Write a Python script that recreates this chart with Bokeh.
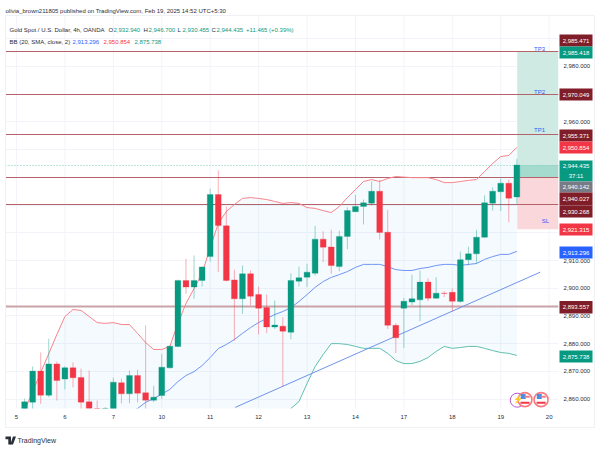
from bokeh.plotting import figure
from bokeh.embed import file_html
from bokeh.resources import INLINE
from bokeh.models import Range1d, FixedTicker, LinearAxis, ColumnDataSource
from bokeh.core.properties import value

# ---------- data ----------
day_labels = ["5", "6", "7", "10", "11", "12", "13", "14", "17", "18", "19", "20"]
price_ticks = [2860, 2870, 2880, 2890, 2900, 2910, 2960, 2980]
grid_prices = [2860, 2870, 2880, 2890, 2900, 2910, 2920, 2930, 2940, 2950, 2960, 2970, 2980, 2990]

opens = [2855.0, 2858.9, 2870.1, 2861.4, 2872.7, 2867.2, 2871.3, 2867.8, 2859.0, 2853.0, 2846.0, 2852.0,
         2865.9, 2861.9, 2868.5, 2862.3, 2859.6, 2861.3, 2871.3, 2879.0, 2902.8, 2900.4, 2902.8, 2911.4,
         2933.8, 2922.5, 2903.0, 2896.2, 2905.2, 2897.7, 2893.0, 2886.0, 2886.3, 2884.1, 2902.5, 2904.0,
         2905.4, 2917.7, 2914.9, 2907.8, 2918.7, 2927.6, 2929.5, 2930.7, 2935.0, 2920.2, 2886.6, 2892.8,
         2895.0, 2895.8, 2902.2, 2896.4, 2898.2, 2898.5, 2895.2, 2910.3, 2912.4, 2918.4, 2930.7, 2934.8,
         2937.9, 2932.94]
highs = [2860.2, 2871.8, 2876.8, 2881.8, 2873.5, 2871.8, 2873.2, 2871.0, 2870.3, 2859.5, 2857.1, 2867.7,
         2867.4, 2870.3, 2870.6, 2886.6, 2864.8, 2876.3, 2879.4, 2903.1, 2910.6, 2911.8, 2907.8, 2935.9,
         2942.5, 2929.5, 2906.7, 2908.2, 2906.4, 2900.6, 2897.7, 2895.6, 2889.5, 2905.4, 2907.8, 2908.8,
         2922.5, 2920.5, 2921.1, 2920.8, 2929.2, 2933.6, 2932.0, 2938.6, 2939.1, 2928.3, 2887.4, 2896.5,
         2904.9, 2906.4, 2903.5, 2904.0, 2898.9, 2899.9, 2913.2, 2915.0, 2921.1, 2933.5, 2936.4, 2939.5,
         2939.2, 2946.7]
lows = [2853.0, 2855.0, 2858.3, 2860.7, 2859.5, 2863.5, 2864.2, 2856.0, 2850.0, 2848.0, 2844.0, 2850.0,
        2858.4, 2858.5, 2858.8, 2854.0, 2858.9, 2860.1, 2871.0, 2878.7, 2898.0, 2896.2, 2900.6, 2909.6,
        2905.8, 2902.4, 2881.1, 2890.8, 2893.8, 2883.3, 2883.8, 2885.3, 2864.5, 2881.6, 2900.6, 2900.4,
        2904.6, 2909.4, 2905.2, 2906.1, 2914.1, 2927.6, 2923.0, 2929.8, 2917.6, 2885.3, 2876.6, 2878.5,
        2893.8, 2888.1, 2895.3, 2896.2, 2896.8, 2891.6, 2894.8, 2908.2, 2908.8, 2918.2, 2928.0, 2927.8,
        2923.8, 2930.455]
closes = [2859.0, 2870.1, 2861.4, 2872.7, 2866.7, 2871.3, 2867.7, 2858.9, 2853.0, 2850.0, 2852.0, 2866.1,
          2861.9, 2868.5, 2862.1, 2859.6, 2860.7, 2871.5, 2879.1, 2902.8, 2900.4, 2902.8, 2907.7, 2933.8,
          2922.6, 2902.8, 2896.2, 2905.2, 2897.1, 2892.8, 2886.0, 2886.7, 2884.5, 2902.8, 2903.8, 2905.8,
          2917.7, 2914.8, 2908.2, 2918.7, 2928.0, 2929.5, 2930.8, 2935.0, 2920.1, 2886.6, 2882.1, 2895.3,
          2896.2, 2902.2, 2896.4, 2898.2, 2898.1, 2895.3, 2910.3, 2912.4, 2918.4, 2930.8, 2935.0, 2937.9,
          2932.5, 2944.435]

bb_upper = [2855.9, 2862.7, 2869.6, 2876.4, 2883.3, 2889.8, 2892.3, 2892.0, 2889.8, 2887.6, 2887.3, 2887.6,
            2886.9, 2886.9, 2883.7, 2880.4, 2877.9, 2877.9, 2879.0, 2887.3, 2894.5, 2899.9, 2905.3, 2914.7,
            2923.3, 2927.7, 2930.2, 2932.4, 2932.7, 2932.4, 2932.0, 2931.3, 2930.6, 2930.9, 2930.6, 2929.1,
            2928.8, 2928.0, 2927.3, 2929.5, 2932.7, 2935.6, 2938.5, 2939.2, 2938.5, 2939.6, 2940.3, 2940.1,
            2939.9, 2939.9, 2939.9, 2939.2, 2938.1, 2938.1, 2938.5, 2938.9, 2939.2, 2942.1, 2945.0, 2947.5,
            2947.9, 2950.854]
bb_basis = [2846.0, 2846.5, 2847.0, 2847.5, 2848.0, 2848.5, 2849.0, 2849.5, 2850.0, 2851.0, 2852.0, 2853.0,
            2854.0, 2855.0, 2856.6, 2858.8, 2860.2, 2861.8, 2863.5, 2866.3, 2868.5, 2869.9, 2872.1, 2875.0,
            2878.2, 2879.7, 2881.5, 2883.7, 2885.8, 2887.6, 2889.1, 2890.5, 2891.6, 2893.0, 2895.2, 2897.7,
            2900.3, 2902.4, 2903.9, 2904.9, 2906.0, 2907.5, 2908.6, 2908.6, 2908.6, 2907.8, 2906.7, 2906.4,
            2906.4, 2907.1, 2907.5, 2908.2, 2908.6, 2908.6, 2908.2, 2908.6, 2908.9, 2910.4, 2911.4, 2912.2,
            2912.2, 2913.296]
bb_lower = [2836.0, 2836.0, 2836.0, 2836.0, 2836.0, 2836.0, 2836.0, 2836.0, 2836.0, 2836.0, 2836.0, 2836.0,
            2836.0, 2836.0, 2836.0, 2836.0, 2836.0, 2836.0, 2836.0, 2836.0, 2836.0, 2836.0, 2836.0, 2836.0,
            2838.0, 2840.0, 2842.0, 2844.0, 2846.0, 2848.0, 2849.0, 2850.0, 2852.0, 2856.6, 2859.1, 2865.6,
            2871.7, 2876.1, 2880.0, 2880.0, 2879.7, 2879.0, 2878.3, 2878.3, 2878.3, 2876.5, 2873.9, 2872.8,
            2872.8, 2873.6, 2875.0, 2877.2, 2879.0, 2878.3, 2878.6, 2879.0, 2879.0, 2878.3, 2877.5, 2876.8,
            2876.5, 2875.738]

level_prices = [2985.418, 2970.049, 2955.371, 2940.027, 2930.268]
support_price = 2893.557
last_close = 2944.435
tp_price, entry_price, stop_price = 2985.418, 2940.142, 2921.315
trend_bar = [27.1, 64.9]
trend_price = [2857.0, 2905.8]

tags = [("2,985.471", "#7f1d28"), ("2,985.418", "#089981"), ("2,970.049", "#7f1d28"), ("2,955.371", "#7f1d28"),
        ("2,950.854", "#f23645"), ("2,944.435", "#089981"), ("2,940.142", "#787b86"), ("2,940.027", "#7f1d28"),
        ("2,930.268", "#7f1d28"), ("2,921.315", "#f23645"), ("2,913.296", "#2962ff"), ("2,893.557", "#7f1d28"),
        ("2,875.738", "#089981")]

# ---------- layout ----------
W, H = 600, 452
F_L, F_R, F_T, F_B = 5, 558, 15, 408
tag_box = [(34, 46), (46, 58), (88, 100), (129, 141), (141, 153), (160, 181), (181, 192), (192, 205), (205, 217),
           (223, 235), (246, 258), (300.5, 313), (350, 362)]
FONT = "Liberation Sans"
TXT = "#2a2e39"
ABS = {"position": "absolute", "left": "0px", "top": "0px"}

p = figure(width=W, height=H, output_backend="svg", toolbar_location=None,
           x_range=Range1d(-1.363, 67.16), y_range=Range1d(2856.6, 2998.4),
           min_border_left=F_L, min_border_right=W - F_R, min_border_top=F_T, min_border_bottom=H - F_B,
           outline_line_color=None, y_axis_location=None, x_axis_location=None)
p.styles = ABS
p.grid.visible = False

# axes
xax = LinearAxis(ticker=FixedTicker(ticks=[6 * i for i in range(len(day_labels))]),
                 major_label_overrides={6 * i: t for i, t in enumerate(day_labels)})
yax = LinearAxis(ticker=FixedTicker(ticks=price_ticks),
                 major_label_overrides={t: f"{t:,}.000" for t in price_ticks})
for a in (xax, yax):
    a.axis_line_color = None
    a.major_tick_line_color = None
    a.minor_tick_line_color = None
    a.major_tick_out = 0
    a.major_tick_in = 0
    a.major_label_text_color = TXT
    a.major_label_text_font = FONT
    a.major_label_text_font_size = "6px"
xax.major_label_standoff = 6
yax.major_label_standoff = 5
p.add_layout(xax, "below")
p.add_layout(yax, "right")

# grid
GRID = "#f2f4f9"
p.segment(x0=[6 * i for i in range(len(day_labels))], x1=[6 * i for i in range(len(day_labels))],
          y0=2856.6, y1=2998.4, line_color=GRID, line_width=1)
p.hspan(y=grid_prices, line_color=GRID, line_width=1)

# bollinger fill + position box
bars = list(range(1, len(closes) + 1))
p.varea(x=bars, y1=bb_lower, y2=bb_upper, fill_color="#2196f3", fill_alpha=0.05)
box_l, box_r = 62.05, 67.16
p.quad(left=[box_l], right=[box_r], top=[tp_price], bottom=[entry_price], fill_color="#cfe9e3", line_color=None)
p.quad(left=[box_l], right=[box_r], top=[last_close], bottom=[entry_price], fill_color="#a5dbcf", line_color=None)
p.quad(left=[box_l], right=[box_r], top=[entry_price], bottom=[stop_price], fill_color="#fad7da", line_color=None)

# levels
p.hspan(y=level_prices, line_color="#b5636b", line_width=1.1)
p.hspan(y=[support_price], line_color="#c9a3a8", line_width=2)
p.hspan(y=[last_close], line_color="#7fcdbb", line_width=1, line_dash="1 2")

# bands
p.line(bars, bb_upper, line_color="#f7848b", line_width=1)
p.line(bars, bb_basis, line_color="#6f94f5", line_width=1)
p.line(bars, bb_lower, line_color="#62bfae", line_width=1)
p.line(trend_bar, trend_price, line_color="#6f92ea", line_width=1)

# candles
up = [c >= o for o, c in zip(opens, closes)]
GREEN, RED = "#089981", "#f23645"
cols = [GREEN if u else RED for u in up]
src = ColumnDataSource(dict(x=bars, o=opens, h=highs, l=lows, c=closes, col=cols))
p.segment(x0="x", x1="x", y0="l", y1="h", line_color="col", line_width=1, line_alpha=0.4, source=src)
p.vbar(x="x", width=0.72, top="o", bottom="c", fill_color="col", line_color="col", line_width=0.3, source=src)

# event icons
p.scatter([62.05], [2859.6], size=14, marker="circle", fill_color="white", line_color="#b455d0", line_width=1)
for bx in (63.0, 65.0):
    p.scatter([bx], [2859.8], size=14, marker="circle", fill_color="white", line_color="#f77c80", line_width=1.6)
    p.scatter([bx - 0.22], [2860.9], size=5, marker="square", fill_color="#4a90e2", line_color=None)
    p.scatter([bx], [2858.7], size=9, marker="dash", line_color="#f23645", line_width=2)
    p.scatter([bx + 0.28], [2860.8], size=5, marker="dash", line_color="#f77c80", line_width=2)

# ---------- overlay in page pixels, for everything outside the plot frame ----------
q = figure(width=W, height=H, output_backend="svg", toolbar_location=None,
           x_range=Range1d(0, W), y_range=Range1d(H, 0),
           min_border_left=0, min_border_right=0, min_border_top=0, min_border_bottom=0,
           outline_line_color=None, background_fill_color=None, border_fill_color=None,
           x_axis_location=None, y_axis_location=None)
q.styles = ABS
q.grid.visible = False


def txt(x, y, s, color=TXT, size="6px", align="left"):
    q.text(x=[x], y=[y], text=[s], text_color=color, text_font=value(FONT), text_font_size=size,
           text_align=align, text_baseline="middle")


def box(l, r, t, b, fill=None, line=None):
    q.quad(left=[l], right=[r], top=[t], bottom=[b], fill_color=fill, fill_alpha=1 if fill else 0,
           line_color=line, line_alpha=1 if line else 0)


# outer border
box(5, 594, 15, 427, line="#f0f1f4")

# price tags
for (s, col), (t, b) in zip(tags, tag_box):
    box(559, 592, t, b, fill=col)
    ty = (t + b) / 2 if s != "2,944.435" else t + 5.5
    txt(575.5, ty, s, color="white", align="center")
txt(575.5, 175.5, "37:11", color="white", align="center")

# position labels
BLUE = "#2962ff"
txt(539, 48, "TP3", color=BLUE, align="center")
txt(539, 91, "TP2", color=BLUE, align="center")
txt(539, 129, "TP1", color=BLUE, align="center")
txt(545, 220, "SL", color=BLUE, align="center")
txt(517, 399, "\u26a1", color="#b455d0", size="8px", align="center")

# header + legend
txt(5, 10, "olivia_brown211805 published on TradingView.com, Feb 19, 2025 14:52 UTC+5:30", size="6px")
txt(9, 29, "Gold Spot / U.S. Dollar, 4h, OANDA")
for x, lab, val in [(108, "O", "2,932.940"), (143, "H", "2,946.700"), (177, "L", "2,930.455"), (211, "C", "2,944.435")]:
    txt(x, 29, lab)
    txt(x + 5, 29, val, color=GREEN)
txt(245.5, 29, "+11.465 (+0.39%)", color=GREEN)
txt(9, 41, "BB (20, SMA, close, 2)")
txt(72, 41, "2,913.296", color=BLUE)
txt(103, 41, "2,950.854", color=RED)
txt(134, 41, "2,875.738", color=GREEN)

# TradingView logo
q.patch([5, 10.5, 10.5, 7.8, 7.8, 5], [436, 436, 444, 444, 438.8, 438.8], fill_color=TXT, line_color=None)
q.patch([12.5, 15.5, 12.5, 9.8], [436, 436, 444, 444], fill_color=TXT, line_color=None)
txt(17, 440, "TradingView", size="7px")

open("out.html", "w").write(file_html([p, q], INLINE))
